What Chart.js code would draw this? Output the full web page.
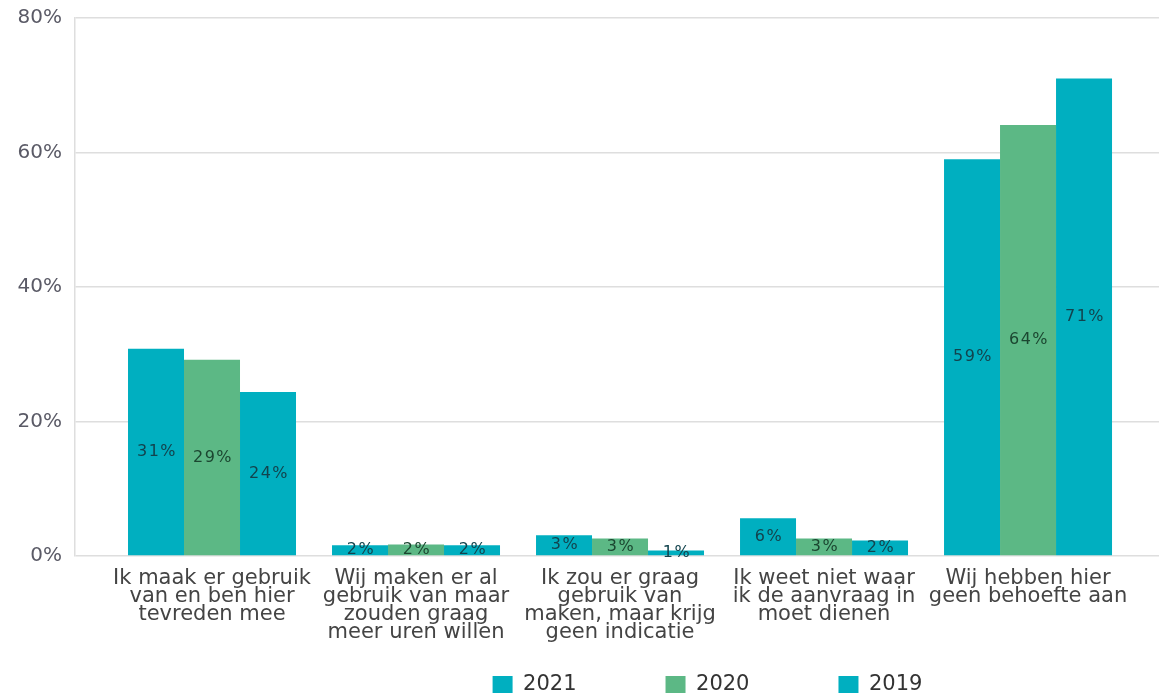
<!DOCTYPE html>
<html>
<head>
<meta charset="utf-8">
<script src="https://cdn.jsdelivr.net/npm/chart.js@4"></script>
<style>
  body { margin: 0; background: #fff; }
  #wrap { width: 1159px; height: 693px; position: relative; }
</style>
</head>
<body>
<div id="wrap"><canvas id="chart"></canvas></div>
<script>
// Data
const categories = [
    ['Ik maak er gebruik', 'van en ben hier', 'tevreden mee'],
    ['Wij maken er al', 'gebruik van maar', 'zouden graag', 'meer uren willen'],
    ['Ik zou er graag', 'gebruik van', 'maken, maar krijg', 'geen indicatie'],
    ['Ik weet niet waar', 'ik de aanvraag in', 'moet dienen'],
    ['Wij hebben hier', 'geen behoefte aan']
];
const years = ['2021', '2020', '2019'];
const values2021 = [30.8, 1.6, 3.1, 5.6, 59.0];
const values2020 = [29.2, 1.7, 2.6, 2.6, 64.1];
const values2019 = [24.4, 1.6, 0.8, 2.3, 71.0];
const yTicks = [0, 20, 40, 60, 80];

const teal = '#00afc0';
const green = '#5cb885';
const labelColors = ['#12434d', '#1b4630', '#12434d'];

const toPoints = vals => vals.map((v, i) => ({ x: i, y: v }));

// Value labels in the middle of each bar
const barLabels = {
    id: 'barLabels',
    afterDatasetsDraw(chart) {
        const ctx = chart.ctx;
        ctx.save();
        ctx.font = '16px "DejaVu Sans"';
        ctx.letterSpacing = '1.5px';
        ctx.textAlign = 'center';
        ctx.textBaseline = 'middle';
        chart.data.datasets.forEach((ds, i) => {
            ctx.fillStyle = labelColors[i];
            chart.getDatasetMeta(i).data.forEach((bar, j) => {
                const p = bar.getProps(['x', 'y', 'base'], true);
                ctx.fillText(Math.round(ds.data[j].y) + '%', p.x + 1, (p.y + p.base) / 2);
            });
        });
        ctx.restore();
    }
};

// Legend sits right of centre and low in the reference, with wide gaps
const legendShift = {
    id: 'legendShift',
    afterLayout(chart) {
        const lg = chart.legend;
        const gap = lg.options.labels.padding;
        lg.left += 128; lg.right += 128;
        lg.top = 674 - gap;
        lg.bottom = chart.height;
    }
};

Chart.defaults.font.family = '"DejaVu Sans", Verdana, sans-serif';

new Chart(document.getElementById('chart'), {
    type: 'bar',
    data: {
        datasets: [
            { label: years[0], data: toPoints(values2021), backgroundColor: teal },
            { label: years[1], data: toPoints(values2020), backgroundColor: green },
            { label: years[2], data: toPoints(values2019), backgroundColor: teal }
        ]
    },
    options: {
        responsive: true,
        maintainAspectRatio: false,
        animation: false,
        categoryPercentage: 0.8235,
        barPercentage: 1,
        layout: { padding: { top: 18, left: 0, right: 0, bottom: 0 } },
        plugins: {
            tooltip: { enabled: false },
            legend: {
                position: 'bottom',
                maxHeight: 37,
                labels: {
                    boxWidth: 20,
                    boxHeight: 17,
                    padding: 89,
                    color: '#333',
                    font: { size: 21 }
                }
            }
        },
        scales: {
            x: {
                type: 'linear',
                offset: false,
                min: -0.6716,
                max: 4.642,
                grid: { display: false },
                border: { display: false },
                afterBuildTicks: s => { s.ticks = categories.map((c, i) => ({ value: i })); },
                afterFit: s => { s.height = 100; },
                ticks: {
                    autoSkip: false,
                    maxRotation: 0,
                    padding: 6,
                    color: '#444',
                    font: { size: 21, lineHeight: '18px' },
                    callback: v => categories[v] || ''
                }
            },
            y: {
                min: 0,
                max: 80,
                afterBuildTicks: s => { s.ticks = yTicks.map(v => ({ value: v })); },
                afterFit: s => { s.width = 75; s.paddingTop = 0; s.paddingBottom = 0; },
                grid: { color: '#dedede', lineWidth: 1.5, drawTicks: false },
                border: { display: true, color: '#dedede', width: 1.5 },
                ticks: {
                    padding: 13,
                    color: '#5a5a66',
                    font: { size: 20 },
                    callback: v => v + '%'
                }
            }
        }
    },
    plugins: [barLabels, legendShift]
});
</script>
</body>
</html>
